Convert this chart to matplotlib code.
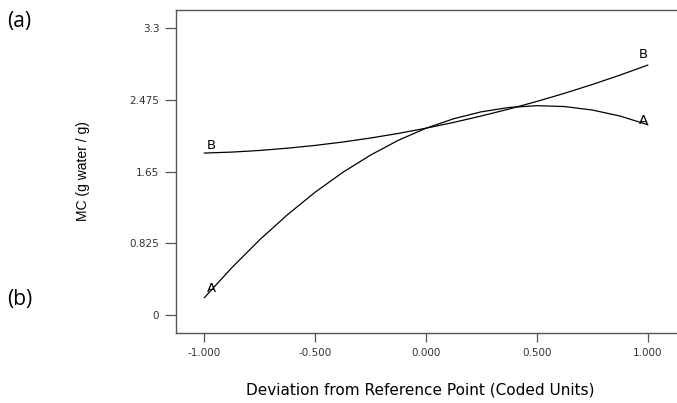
import matplotlib
matplotlib.use("Agg")
import matplotlib.pyplot as plt

x_vals = [-1.0, -0.875, -0.75, -0.625, -0.5, -0.375, -0.25, -0.125, 0.0,
          0.125, 0.25, 0.375, 0.5, 0.625, 0.75, 0.875, 1.0]
curve_a = [0.20, 0.548, 0.867, 1.155, 1.414, 1.643, 1.841, 2.011, 2.15,
           2.259, 2.339, 2.389, 2.409, 2.399, 2.359, 2.29, 2.19]
curve_b = [1.864, 1.875, 1.894, 1.92, 1.952, 1.991, 2.037, 2.09, 2.15,
           2.217, 2.291, 2.371, 2.458, 2.552, 2.653, 2.761, 2.876]
x_ticks = [-1.0, -0.5, 0.0, 0.5, 1.0]
x_tick_labels = ["-1.000", "-0.500", "0.000", "0.500", "1.000"]
y_ticks = [0, 0.825, 1.65, 2.475, 3.3]
y_tick_labels = ["0", "0.825", "1.65", "2.475", "3.3"]

plt.rcParams['font.family'] = ["DejaVu Sans"]

fig = plt.figure(figsize=(6.77, 4.03), dpi=100)
ax = fig.add_axes([176/677, 70/403, 1 - 176/677, (333 - 9.5)/403])

ax.plot(x_vals, curve_a, color="black", lw=0.9)
ax.plot(x_vals, curve_b, color="black", lw=0.9)

lab_kw = dict(fontsize=9.5, ha="center", va="bottom")
ax.text(x_vals[0] + 0.03, curve_a[0] + 0.03, "A", **lab_kw)
ax.text(x_vals[0] + 0.03, curve_b[0] + 0.01, "B", **lab_kw)
ax.text(x_vals[-1] - 0.02, curve_a[-1] - 0.03, "A", **lab_kw)
ax.text(x_vals[-1] - 0.02, curve_b[-1] + 0.05, "B", **lab_kw)

ax.set_xlim(-1.128, 1.132)
ax.set_ylim(-0.207, 3.516)
ax.set_xticks(x_ticks)
ax.set_xticklabels(x_tick_labels)
ax.set_yticks(y_ticks)
ax.set_yticklabels(y_tick_labels)
ax.tick_params(axis="y", direction="out", length=8, width=0.9, colors="#555555",
               labelcolor="#333333", labelsize=7.5, pad=4)
ax.tick_params(axis="x", direction="out", length=6.5, width=0.9, colors="#555555",
               labelcolor="#333333", labelsize=7.5, pad=4)
for s in ["left", "bottom", "top"]:
    ax.spines[s].set_color("#555555")
    ax.spines[s].set_linewidth(1.0)
ax.spines["right"].set_visible(False)

fig.text(83/677, 1 - 171/403, "MC (g water / g)", fontsize=10, rotation=90,
         ha="center", va="center", family=["Liberation Sans", "DejaVu Sans"])
fig.text(420/677, 1 - 390/403, "Deviation from Reference Point (Coded Units)",
         fontsize=11, ha="center", va="center")

fig.text(7/677, 1 - 22/403, "(a)", fontsize=15, ha="left", va="center",
         family=["Open Sans", "DejaVu Sans"])
fig.text(7/677, 1 - 300/403, "(b)", fontsize=15, ha="left", va="center",
         family=["Open Sans", "DejaVu Sans"])

fig.savefig("out.png", dpi=100)
